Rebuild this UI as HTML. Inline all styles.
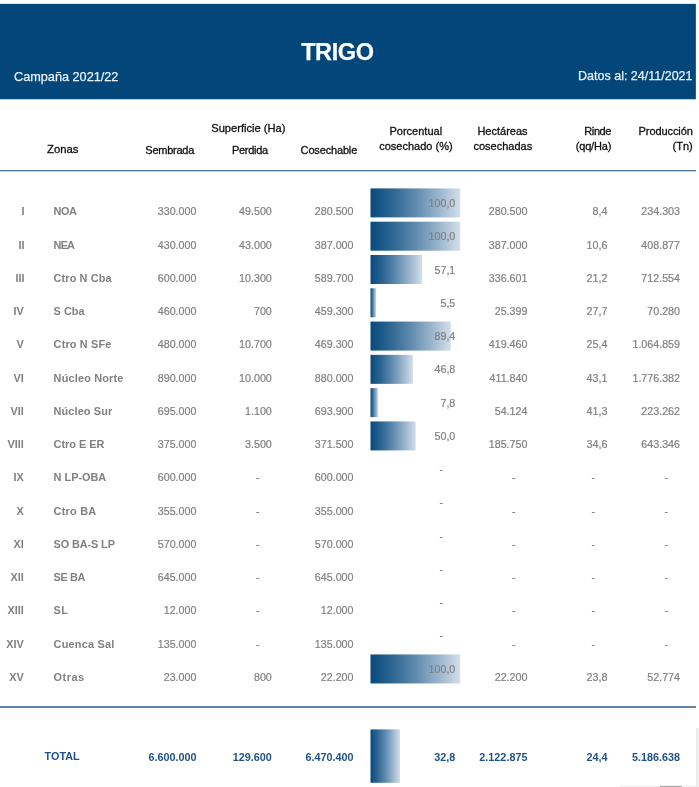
<!DOCTYPE html>
<html lang="es"><head><meta charset="utf-8"><title>TRIGO</title>
<style>
html,body{margin:0;padding:0;background:#fff;}
body{width:699px;height:787px;position:relative;overflow:hidden;font-family:"Liberation Sans",Arial,sans-serif;}
.t{position:absolute;z-index:1;white-space:nowrap;line-height:1;}
.r{text-align:right;}
.c{text-align:center;}
.h{font-size:11px;color:#101010;-webkit-text-stroke:0.3px #101010;}
.d{font-size:10.7px;color:#808080;-webkit-text-stroke:0.2px #808080;}
.z{font-size:10.9px;color:#808080;font-weight:bold;}
.tt{font-size:10.8px;color:#1f5288;font-weight:bold;}
.ln{position:absolute;left:0;width:696px;}
</style></head><body>

<svg class="bars" width="699" height="787" viewBox="0 0 699 787" style="position:absolute;left:0;top:0;z-index:0;"><defs><linearGradient id="g" x1="0" y1="0" x2="1" y2="0"><stop offset="0" stop-color="#064a7e"/><stop offset="0.25" stop-color="#2f6692"/><stop offset="0.5" stop-color="#5f8aae"/><stop offset="0.75" stop-color="#98b3cb"/><stop offset="1" stop-color="#d3dfe9"/></linearGradient></defs><rect x="0" y="3.88" width="695.85" height="95.37" fill="#02467a"/><rect x="370.50" y="188.40" width="89.70" height="29.00" fill="url(#g)"/><rect x="370.50" y="221.69" width="89.70" height="29.00" fill="url(#g)"/><rect x="370.50" y="254.98" width="51.52" height="29.00" fill="url(#g)"/><rect x="370.50" y="288.27" width="5.60" height="29.00" fill="url(#g)"/><rect x="370.50" y="321.56" width="80.27" height="29.00" fill="url(#g)"/><rect x="370.50" y="354.85" width="42.35" height="29.00" fill="url(#g)"/><rect x="370.50" y="388.14" width="7.64" height="29.00" fill="url(#g)"/><rect x="370.50" y="421.43" width="45.20" height="29.00" fill="url(#g)"/><rect x="370.50" y="654.46" width="89.70" height="29.00" fill="url(#g)"/><rect x="370.50" y="729.40" width="29.50" height="53.40" fill="url(#g)"/></svg>
<header>
<div class="t" style="left:0;width:674.7px;top:41.4px;font-size:23.5px;letter-spacing:-0.42px;font-weight:bold;color:#fff;text-align:center;-webkit-text-stroke:0.25px #fff;">TRIGO</div>
<div class="t" style="left:14px;top:71px;font-size:12.7px;color:#e9f0f6;-webkit-text-stroke:0.25px #e9f0f6;">Campaña 2021/22</div>
<div class="t r" style="right:6.5px;top:70px;font-size:12.5px;color:#e9f0f6;-webkit-text-stroke:0.25px #e9f0f6;">Datos al: 24/11/2021</div>
</header>
<section class="thead">
<div class="t h" style="left:47.0px;top:144px;font-size:11.35px;">Zonas</div>
<div class="t h" style="left:145.3px;top:145px;letter-spacing:-0.25px;">Sembrada</div>
<div class="t h c" style="left:148.40px;width:200px;top:123px;font-size:11.15px;">Superficie (Ha)</div>
<div class="t h" style="left:232.0px;top:145px;letter-spacing:-0.31px;">Perdida</div>
<div class="t h" style="left:300.6px;top:145px;letter-spacing:-0.16px;">Cosechable</div>
<div class="t h c" style="left:315.80px;width:200px;top:126px;">Porcentual</div>
<div class="t h c" style="left:315.90px;width:200px;top:141px;">cosechado (%)</div>
<div class="t h c" style="left:402.50px;width:200px;top:126px;">Hectáreas</div>
<div class="t h c" style="left:402.80px;width:200px;top:141px;">cosechadas</div>
<div class="t h r" style="right:88.00px;top:126px;letter-spacing:-0.42px;">Rinde</div>
<div class="t h r" style="right:87.80px;top:141px;letter-spacing:-0.17px;">(qq/Ha)</div>
<div class="t h r" style="right:6.30px;top:126px;letter-spacing:-0.09px;">Producción</div>
<div class="t h r" style="right:6.30px;top:141px;">(Tn)</div>
</section>
<div class="ln" style="top:170px;height:1px;background:#4d77a5;"></div>
<div class="ln" style="top:171px;height:1px;background:#c3d3e4;"></div>
<main>
<div class="row">
<div class="t z r" style="right:674.50px;top:206px;">I</div>
<div class="t z" style="left:53.6px;top:206px;letter-spacing:-0.5px;">NOA</div>
<div class="t d r" style="right:502.60px;top:206px;">330.000</div>
<div class="t d r" style="right:427.20px;top:206px;">49.500</div>
<div class="t d r" style="right:345.50px;top:206px;">280.500</div>
<div class="t d r" style="right:243.70px;top:198px;">100,0</div>
<div class="t d r" style="right:171.60px;top:206px;">280.500</div>
<div class="t d r" style="right:91.60px;top:206px;">8,4</div>
<div class="t d r" style="right:19.00px;top:206px;">234.303</div>
</div>
<div class="row">
<div class="t z r" style="right:674.50px;top:240px;">II</div>
<div class="t z" style="left:53.6px;top:240px;letter-spacing:-0.8px;">NEA</div>
<div class="t d r" style="right:502.60px;top:240px;">430.000</div>
<div class="t d r" style="right:427.20px;top:240px;">43.000</div>
<div class="t d r" style="right:345.50px;top:240px;">387.000</div>
<div class="t d r" style="right:243.70px;top:231px;">100,0</div>
<div class="t d r" style="right:171.60px;top:240px;">387.000</div>
<div class="t d r" style="right:91.60px;top:240px;">10,6</div>
<div class="t d r" style="right:19.00px;top:240px;">408.877</div>
</div>
<div class="row">
<div class="t z r" style="right:674.50px;top:273px;">III</div>
<div class="t z" style="left:53.6px;top:273px;letter-spacing:0.12px;">Ctro N Cba</div>
<div class="t d r" style="right:502.60px;top:273px;">600.000</div>
<div class="t d r" style="right:427.20px;top:273px;">10.300</div>
<div class="t d r" style="right:345.50px;top:273px;">589.700</div>
<div class="t d r" style="right:243.70px;top:265px;">57,1</div>
<div class="t d r" style="right:171.60px;top:273px;">336.601</div>
<div class="t d r" style="right:91.60px;top:273px;">21,2</div>
<div class="t d r" style="right:19.00px;top:273px;">712.554</div>
</div>
<div class="row">
<div class="t z r" style="right:675.20px;top:306px;">IV</div>
<div class="t z" style="left:53.6px;top:306px;letter-spacing:0px;">S Cba</div>
<div class="t d r" style="right:502.60px;top:306px;">460.000</div>
<div class="t d r" style="right:427.20px;top:306px;">700</div>
<div class="t d r" style="right:345.50px;top:306px;">459.300</div>
<div class="t d r" style="right:243.70px;top:298px;">5,5</div>
<div class="t d r" style="right:171.60px;top:306px;">25.399</div>
<div class="t d r" style="right:91.60px;top:306px;">27,7</div>
<div class="t d r" style="right:19.00px;top:306px;">70.280</div>
</div>
<div class="row">
<div class="t z r" style="right:675.20px;top:339px;">V</div>
<div class="t z" style="left:53.6px;top:339px;letter-spacing:0.17px;">Ctro N SFe</div>
<div class="t d r" style="right:502.60px;top:339px;">480.000</div>
<div class="t d r" style="right:427.20px;top:339px;">10.700</div>
<div class="t d r" style="right:345.50px;top:339px;">469.300</div>
<div class="t d r" style="right:243.70px;top:331px;">89,4</div>
<div class="t d r" style="right:171.60px;top:339px;">419.460</div>
<div class="t d r" style="right:91.60px;top:339px;">25,4</div>
<div class="t d r" style="right:19.00px;top:339px;">1.064.859</div>
</div>
<div class="row">
<div class="t z r" style="right:675.20px;top:373px;">VI</div>
<div class="t z" style="left:53.6px;top:373px;letter-spacing:0.18px;">Núcleo Norte</div>
<div class="t d r" style="right:502.60px;top:373px;">890.000</div>
<div class="t d r" style="right:427.20px;top:373px;">10.000</div>
<div class="t d r" style="right:345.50px;top:373px;">880.000</div>
<div class="t d r" style="right:243.70px;top:364px;">46,8</div>
<div class="t d r" style="right:171.60px;top:373px;">411.840</div>
<div class="t d r" style="right:91.60px;top:373px;">43,1</div>
<div class="t d r" style="right:19.00px;top:373px;">1.776.382</div>
</div>
<div class="row">
<div class="t z r" style="right:675.20px;top:406px;">VII</div>
<div class="t z" style="left:53.6px;top:406px;letter-spacing:0.12px;">Núcleo Sur</div>
<div class="t d r" style="right:502.60px;top:406px;">695.000</div>
<div class="t d r" style="right:427.20px;top:406px;">1.100</div>
<div class="t d r" style="right:345.50px;top:406px;">693.900</div>
<div class="t d r" style="right:243.70px;top:398px;">7,8</div>
<div class="t d r" style="right:171.60px;top:406px;">54.124</div>
<div class="t d r" style="right:91.60px;top:406px;">41,3</div>
<div class="t d r" style="right:19.00px;top:406px;">223.262</div>
</div>
<div class="row">
<div class="t z r" style="right:675.20px;top:439px;">VIII</div>
<div class="t z" style="left:53.6px;top:439px;letter-spacing:0px;">Ctro E ER</div>
<div class="t d r" style="right:502.60px;top:439px;">375.000</div>
<div class="t d r" style="right:427.20px;top:439px;">3.500</div>
<div class="t d r" style="right:345.50px;top:439px;">371.500</div>
<div class="t d r" style="right:243.70px;top:431px;">50,0</div>
<div class="t d r" style="right:171.60px;top:439px;">185.750</div>
<div class="t d r" style="right:91.60px;top:439px;">34,6</div>
<div class="t d r" style="right:19.00px;top:439px;">643.346</div>
</div>
<div class="row">
<div class="t z r" style="right:675.20px;top:472px;">IX</div>
<div class="t z" style="left:53.6px;top:472px;letter-spacing:0px;">N LP-OBA</div>
<div class="t d r" style="right:502.60px;top:472px;">600.000</div>
<div class="t d c" style="left:157.80px;width:200px;top:472px;">-</div>
<div class="t d r" style="right:345.50px;top:472px;">600.000</div>
<div class="t d c" style="left:341.20px;width:200px;top:464px;">-</div>
<div class="t d c" style="left:413.70px;width:200px;top:472px;">-</div>
<div class="t d c" style="left:493.40px;width:200px;top:472px;">-</div>
<div class="t d c" style="left:566.20px;width:200px;top:472px;">-</div>
</div>
<div class="row">
<div class="t z r" style="right:675.20px;top:506px;">X</div>
<div class="t z" style="left:53.6px;top:506px;letter-spacing:0.25px;">Ctro BA</div>
<div class="t d r" style="right:502.60px;top:506px;">355.000</div>
<div class="t d c" style="left:157.80px;width:200px;top:506px;">-</div>
<div class="t d r" style="right:345.50px;top:506px;">355.000</div>
<div class="t d c" style="left:341.20px;width:200px;top:497px;">-</div>
<div class="t d c" style="left:413.70px;width:200px;top:506px;">-</div>
<div class="t d c" style="left:493.40px;width:200px;top:506px;">-</div>
<div class="t d c" style="left:566.20px;width:200px;top:506px;">-</div>
</div>
<div class="row">
<div class="t z r" style="right:675.20px;top:539px;">XI</div>
<div class="t z" style="left:53.6px;top:539px;letter-spacing:-0.11px;">SO BA-S LP</div>
<div class="t d r" style="right:502.60px;top:539px;">570.000</div>
<div class="t d c" style="left:157.80px;width:200px;top:539px;">-</div>
<div class="t d r" style="right:345.50px;top:539px;">570.000</div>
<div class="t d c" style="left:341.20px;width:200px;top:531px;">-</div>
<div class="t d c" style="left:413.70px;width:200px;top:539px;">-</div>
<div class="t d c" style="left:493.40px;width:200px;top:539px;">-</div>
<div class="t d c" style="left:566.20px;width:200px;top:539px;">-</div>
</div>
<div class="row">
<div class="t z r" style="right:675.20px;top:572px;">XII</div>
<div class="t z" style="left:53.6px;top:572px;letter-spacing:-0.37px;">SE BA</div>
<div class="t d r" style="right:502.60px;top:572px;">645.000</div>
<div class="t d c" style="left:157.80px;width:200px;top:572px;">-</div>
<div class="t d r" style="right:345.50px;top:572px;">645.000</div>
<div class="t d c" style="left:341.20px;width:200px;top:564px;">-</div>
<div class="t d c" style="left:413.70px;width:200px;top:572px;">-</div>
<div class="t d c" style="left:493.40px;width:200px;top:572px;">-</div>
<div class="t d c" style="left:566.20px;width:200px;top:572px;">-</div>
</div>
<div class="row">
<div class="t z r" style="right:675.20px;top:605px;">XIII</div>
<div class="t z" style="left:53.6px;top:605px;letter-spacing:0.3px;">SL</div>
<div class="t d r" style="right:502.60px;top:605px;">12.000</div>
<div class="t d c" style="left:157.80px;width:200px;top:605px;">-</div>
<div class="t d r" style="right:345.50px;top:605px;">12.000</div>
<div class="t d c" style="left:341.20px;width:200px;top:597px;">-</div>
<div class="t d c" style="left:413.70px;width:200px;top:605px;">-</div>
<div class="t d c" style="left:493.40px;width:200px;top:605px;">-</div>
<div class="t d c" style="left:566.20px;width:200px;top:605px;">-</div>
</div>
<div class="row">
<div class="t z r" style="right:675.20px;top:639px;">XIV</div>
<div class="t z" style="left:53.6px;top:639px;letter-spacing:0.22px;">Cuenca Sal</div>
<div class="t d r" style="right:502.60px;top:639px;">135.000</div>
<div class="t d c" style="left:157.80px;width:200px;top:639px;">-</div>
<div class="t d r" style="right:345.50px;top:639px;">135.000</div>
<div class="t d c" style="left:341.20px;width:200px;top:630px;">-</div>
<div class="t d c" style="left:413.70px;width:200px;top:639px;">-</div>
<div class="t d c" style="left:493.40px;width:200px;top:639px;">-</div>
<div class="t d c" style="left:566.20px;width:200px;top:639px;">-</div>
</div>
<div class="row">
<div class="t z r" style="right:675.20px;top:672px;">XV</div>
<div class="t z" style="left:53.6px;top:672px;letter-spacing:0.5px;">Otras</div>
<div class="t d r" style="right:502.60px;top:672px;">23.000</div>
<div class="t d r" style="right:427.20px;top:672px;">800</div>
<div class="t d r" style="right:345.50px;top:672px;">22.200</div>
<div class="t d r" style="right:243.70px;top:664px;">100,0</div>
<div class="t d r" style="right:171.60px;top:672px;">22.200</div>
<div class="t d r" style="right:91.60px;top:672px;">23,8</div>
<div class="t d r" style="right:19.00px;top:672px;">52.774</div>
</div>
</main>
<div class="ln" style="top:706px;height:2px;background:#5c84af;"></div>
<footer class="row total">
<div class="t tt" style="left:44.6px;top:751px;">TOTAL</div>
<div class="t tt r" style="right:502.50px;top:752px;">6.600.000</div>
<div class="t tt r" style="right:427.20px;top:752px;">129.600</div>
<div class="t tt r" style="right:345.50px;top:752px;">6.470.400</div>
<div class="t tt r" style="right:243.70px;top:752px;">32,8</div>
<div class="t tt r" style="right:171.60px;top:752px;">2.122.875</div>
<div class="t tt r" style="right:91.60px;top:752px;">24,4</div>
<div class="t tt r" style="right:19.00px;top:752px;">5.186.638</div>
</footer>
<div style="position:absolute;left:696px;top:728px;width:3px;height:59px;background:#f1f1f1;"></div>
<div style="position:absolute;left:696px;top:728px;width:1px;height:59px;background:#e6e6e6;"></div>
<div style="position:absolute;left:620px;top:785px;width:76px;height:2px;background:#f5f5f5;"></div>
<div style="position:absolute;left:660px;top:786px;width:22px;height:1px;background:#a4a4a4;"></div>
</body></html>
